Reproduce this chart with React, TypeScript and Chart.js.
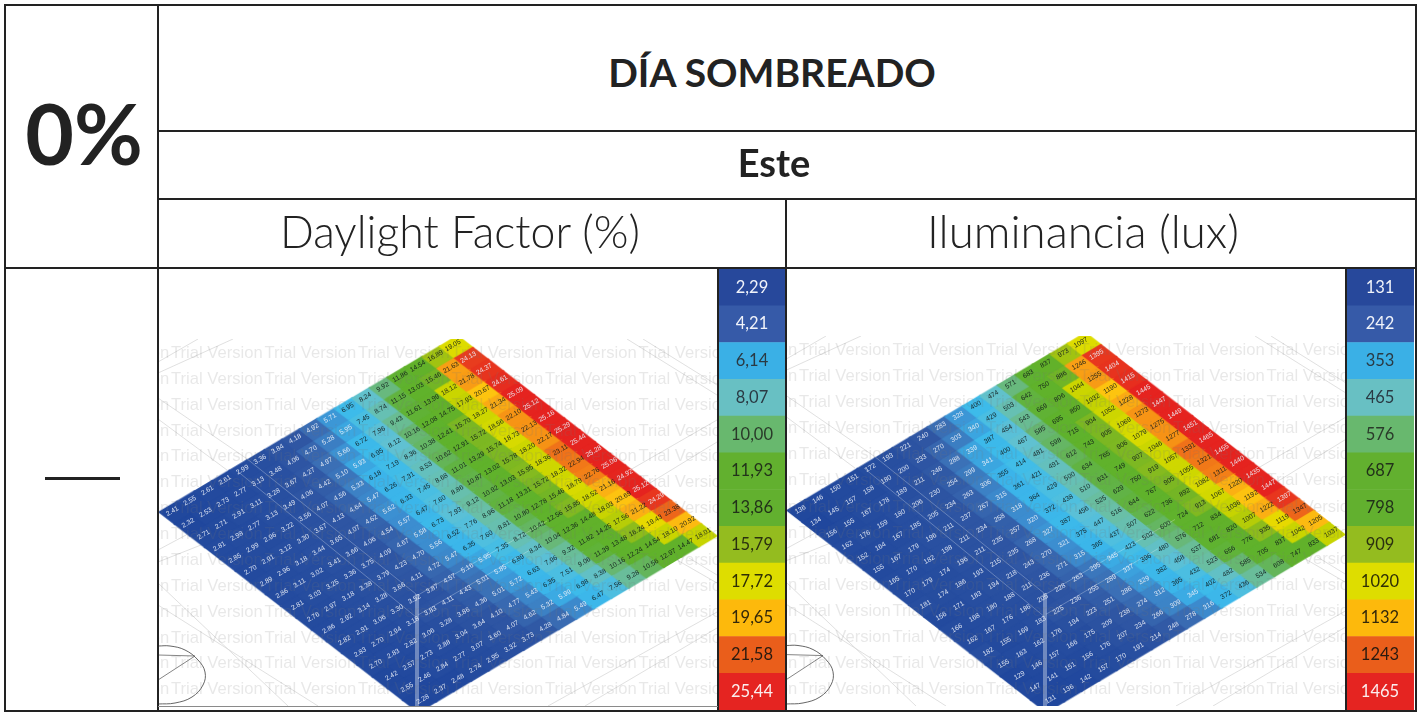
import React, { useEffect, useRef } from "react";
import { Chart, registerables } from "chart.js";

Chart.register(...registerables);

// One row per v (top-left edge to bottom-right edge), u runs up and to the right.
const daylightRows: number[][] = [
  [2.41, 2.55, 2.61, 2.61, 2.99, 3.36, 3.84, 4.18, 4.92, 5.71, 6.95, 8.24, 9.92, 11.86, 14.54, 16.89, 19.05],
  [2.32, 2.53, 2.73, 2.77, 3.13, 3.48, 4.06, 4.7, 5.28, 5.95, 7.45, 8.74, 11.15, 13.03, 15.46, 21.63, 24.13],
  [2.71, 2.71, 2.91, 3.11, 3.28, 3.67, 4.27, 4.97, 5.66, 6.72, 7.96, 9.43, 11.61, 13.99, 18.12, 21.78, 24.37],
  [2.81, 2.98, 2.77, 3.13, 3.49, 4.06, 4.42, 5.1, 5.93, 6.95, 8.12, 10.16, 12.08, 14.75, 17.93, 20.67, 24.61],
  [2.85, 2.99, 2.96, 3.22, 3.56, 4.07, 4.56, 5.33, 6.18, 7.19, 8.36, 10.38, 12.41, 15.7, 18.27, 21.34, 25.09],
  [2.7, 2.91, 3.12, 3.3, 3.67, 4.13, 4.64, 5.47, 6.26, 7.31, 8.53, 10.62, 12.91, 15.72, 18.56, 22.1, 25.12],
  [2.89, 2.96, 3.18, 3.44, 3.65, 4.07, 4.62, 5.62, 6.33, 7.45, 8.68, 11.01, 13.29, 15.74, 18.73, 22.13, 25.16],
  [2.86, 3.11, 3.02, 3.41, 3.66, 4.06, 4.54, 5.57, 6.47, 7.6, 8.86, 10.87, 13.02, 15.78, 18.2, 22.17, 25.29],
  [2.81, 3.03, 3.25, 3.36, 3.75, 4.09, 4.67, 5.58, 6.73, 7.93, 9.12, 10.92, 13.03, 15.95, 18.36, 23.11, 25.44],
  [2.76, 2.97, 3.18, 3.38, 3.79, 4.23, 4.7, 5.56, 6.52, 7.76, 8.96, 11.18, 13.31, 15.72, 18.32, 22.94, 25.28],
  [2.86, 2.92, 3.14, 3.28, 3.66, 4.11, 4.72, 5.47, 6.35, 7.6, 8.81, 10.8, 12.78, 15.46, 18.79, 22.76, 25.06],
  [2.82, 2.91, 3.06, 3.3, 3.52, 3.87, 4.57, 5.16, 5.95, 7.35, 8.72, 10.42, 12.56, 15.85, 18.52, 21.16, 24.92],
  [2.83, 2.7, 2.94, 3.18, 3.83, 4.11, 4.43, 5.01, 5.85, 6.89, 8.34, 10.04, 12.36, 14.48, 18.03, 20.69, 25.12],
  [2.7, 2.83, 2.82, 3.06, 3.28, 3.86, 4.36, 5.01, 5.72, 6.63, 7.96, 9.32, 11.82, 14.25, 17.56, 21.22, 24.29],
  [2.42, 2.57, 2.73, 2.88, 3.04, 3.64, 4.1, 4.77, 5.43, 6.35, 7.51, 9.06, 11.39, 13.48, 16.24, 19.43, 23.38],
  [2.55, 2.46, 2.84, 2.77, 3.07, 3.6, 4.07, 4.62, 5.32, 5.99, 6.98, 8.38, 10.16, 12.24, 14.54, 18.1, 20.92],
  [2.28, 2.37, 2.48, 2.74, 2.95, 3.32, 3.73, 4.28, 4.84, 5.49, 6.47, 7.56, 9.28, 10.56, 12.97, 14.47, 18.01],
];

const luxRows: number[][] = [
  [136, 146, 150, 151, 172, 193, 221, 240, 283, 328, 400, 474, 571, 683, 837, 973, 1097],
  [134, 145, 157, 158, 180, 200, 233, 270, 303, 340, 429, 503, 642, 750, 886, 1246, 1395],
  [156, 155, 167, 178, 189, 211, 246, 288, 339, 387, 454, 543, 669, 806, 1044, 1255, 1404],
  [162, 176, 159, 180, 206, 230, 254, 299, 341, 400, 467, 585, 695, 850, 1032, 1190, 1415],
  [152, 164, 167, 185, 205, 234, 263, 306, 355, 414, 481, 598, 715, 904, 1052, 1228, 1445],
  [155, 167, 179, 196, 211, 237, 267, 315, 361, 421, 491, 612, 743, 905, 1069, 1273, 1447],
  [165, 170, 182, 198, 211, 234, 258, 318, 364, 429, 500, 634, 765, 906, 1079, 1275, 1449],
  [170, 179, 174, 196, 211, 235, 257, 320, 372, 438, 510, 631, 749, 907, 1046, 1277, 1451],
  [181, 174, 186, 193, 215, 235, 268, 327, 387, 456, 525, 629, 750, 919, 1057, 1331, 1465],
  [156, 171, 183, 194, 218, 243, 270, 321, 375, 447, 516, 644, 767, 905, 1055, 1321, 1455],
  [166, 168, 180, 188, 211, 236, 271, 315, 365, 437, 507, 622, 736, 892, 1082, 1311, 1440],
  [162, 167, 176, 186, 205, 228, 263, 295, 345, 423, 502, 600, 724, 913, 1067, 1220, 1435],
  [182, 155, 169, 183, 225, 236, 255, 289, 337, 396, 480, 576, 712, 834, 1036, 1192, 1447],
  [155, 163, 162, 176, 194, 223, 251, 286, 329, 382, 458, 537, 681, 820, 1007, 1222, 1397],
  [129, 146, 157, 166, 175, 209, 238, 274, 312, 365, 432, 523, 656, 776, 935, 1119, 1347],
  [147, 141, 151, 156, 176, 207, 234, 266, 309, 345, 402, 482, 585, 705, 837, 1042, 1205],
  [131, 136, 142, 157, 170, 191, 214, 248, 278, 316, 372, 436, 534, 608, 747, 833, 1037],
];

const daylightLegend = ["2,29", "4,21", "6,14", "8,07", "10,00", "11,93", "13,86", "15,79", "17,72", "19,65", "21,58", "25,44"];
const luxLegend = ["131", "242", "353", "465", "576", "687", "798", "909", "1020", "1132", "1243", "1465"];
const legendColors = ["#27489b", "#365aa8", "#3ab0e6", "#68c0c3", "#68b86e", "#62b02f", "#62b02f", "#94bc1f", "#dedd00", "#fdb90c", "#ea5e1b", "#e52421"];
const legendTextColors = ["#f0f3fa", "#f0f3fa", "#2a3a44", "#2a3a44", "#2a3a2a", "#22321a", "#22321a", "#2a3010", "#2f2f05", "#33280a", "#2a1a10", "#fbeeee"];

// Colour ramp of the cells, in daylight-factor values.
const rampValues = [2.29, 4.2, 5.0, 5.6, 6.14, 7.1, 8.07, 9.0, 10, 11, 12, 15, 16, 17, 18.1, 19, 20, 20.7, 21.6, 22.5, 23.3, 24.2, 25];
const rampColors = ["#20479d", "#2f56a3", "#3b70b6", "#3c8fd1", "#3bb4ea", "#3dbcea", "#5fc1d4", "#69bfa6", "#68b87a", "#61b342", "#5fb22c", "#62b12a", "#86ba1f", "#a4c40f", "#cad500", "#dcdc00", "#f6d400", "#fdc310", "#f9a015", "#f58a15", "#ee6a1a", "#e8381e", "#e5231f"];

// Background drawing behind the grid, in panel pixels.
const groundLines = [
  [[-1, 23], [39, 0]],
  [[-1, 34], [74, 0]],
  [[468, 0], [558, 56]],
  [[484, 0], [558, 46]],
  [[471, 131], [558, 81]],
  [[491, 144], [558, 103]],
  [[-1, 59], [100, 128]],
  [[-1, 80], [68, 131]],
  [[-1, 211], [42, 188]],
  [[-1, 223], [42, 206]],
  [[-1, 244], [129, 367]],
  [[-1, 266], [159, 367]],
  [[389, 367], [558, 273]],
  [[426, 367], [558, 289]],
  [[518, 221], [558, 244]],
  [[530, 219], [558, 236]],
];
const compassOutline = [[-1, 307], [11, 307], [26, 311], [39, 321], [46, 333], [44, 346], [33, 358], [16, 364], [-1, 365]];
const compassSpokes = [[[-1, 316], [36, 317]], [[36, 317], [-1, 341]]];
const roomLines = [
  [[77, 131], [257, 278]],
  [[87, 119], [257, 255]],
  [[257, 255], [257, 367]],
  [[259, 255], [259, 367]],
  [[259, 256], [388, 182]],
  [[259, 276], [371, 211]],
];

const PANEL_W = 559;
const PANEL_H = 367;
const LEFT_X = 0.5;
const LEFT_Y = 173;
const U = { x: 17.53, y: -10.35 };
const V = { x: 15.23, y: 11.76 };

const hexRgb = (h: string) => [1, 3, 5].map((i) => parseInt(h.slice(i, i + 2), 16));
function rampColor(df: number) {
  if (df <= rampValues[0]) return rampColors[0];
  for (let i = 1; i < rampValues.length; i++) {
    if (df <= rampValues[i]) {
      const t = (df - rampValues[i - 1]) / (rampValues[i] - rampValues[i - 1]);
      const a = hexRgb(rampColors[i - 1]);
      const b = hexRgb(rampColors[i]);
      return `rgb(${a.map((c, k) => Math.round(c + (b[k] - c) * t)).join(",")})`;
    }
  }
  return rampColors[rampColors.length - 1];
}

const stampCache = new Map<string, HTMLCanvasElement>();
function cellStamp(color: string) {
  const hit = stampCache.get(color);
  if (hit) return hit;
  const c = document.createElement("canvas");
  c.width = 40;
  c.height = 30;
  const ctx = c.getContext("2d")!;
  ctx.translate(20, 15);
  const g = 0.55;
  const a = 0.5 + g / 17;
  ctx.fillStyle = color;
  ctx.beginPath();
  ctx.moveTo(-a * U.x - a * V.x - g, -a * U.y - a * V.y);
  ctx.lineTo(a * U.x - a * V.x, a * U.y - a * V.y - g);
  ctx.lineTo(a * U.x + a * V.x + g, a * U.y + a * V.y);
  ctx.lineTo(-a * U.x + a * V.x, -a * U.y + a * V.y + g);
  ctx.closePath();
  ctx.fill();
  stampCache.set(color, c);
  return c;
}

const segmentDataset = (pts: number[][], color: string, width: number, order: number, tension = 0) => ({
  data: pts.map(([x, y]) => ({ x, y })),
  showLine: true,
  borderColor: color,
  borderWidth: width,
  pointRadius: 0,
  tension,
  order,
  fill: false,
});

function GridPanel({ rows, toDf, decimals, left, top, height }: { rows: number[][]; toDf: (v: number) => number; decimals: number; left: number; top: number; height: number }) {
  const ref = useRef<HTMLCanvasElement>(null);
  useEffect(() => {
    const cells: { x: number; y: number; u: number; v: number; value: number }[] = [];
    rows.forEach((row, v) =>
      row.forEach((value, u) =>
        cells.push({
          x: LEFT_X + (u + 0.5) * U.x + (v + 0.5) * V.x,
          y: LEFT_Y + (u + 0.5) * U.y + (v + 0.5) * V.y,
          u,
          v,
          value,
        })
      )
    );
    const overlay = {
      id: "overlay",
      afterDatasetsDraw(chart: any) {
        const { ctx, scales } = chart;
        ctx.save();
        ctx.font = "16.6px 'Liberation Sans'";
        ctx.textBaseline = "middle";
        ctx.textAlign = "left";
        ctx.fillStyle = "rgba(120,120,120,0.17)";
        for (let r = 0; r < 14; r++) {
          for (let k = -1; k < 7; k++) {
            ctx.fillText("Trial Version", scales.x.getPixelForValue(12 + 93.5 * k), scales.y.getPixelForValue(14.3 + 25.88 * r));
          }
        }
        const meta = chart.getDatasetMeta(0);
        ctx.font = "6.8px 'Liberation Sans'";
        ctx.textAlign = "center";
        meta.data.forEach((pt: any, i: number) => {
          const c = cells[i];
          const df = toDf(c.value);
          ctx.save();
          ctx.translate(pt.x - 3.5 + 0.42 * c.v, pt.y - 1.5);
          ctx.rotate(-Math.PI / 6);
          ctx.fillStyle = df < 6.1 || df > 24 ? "rgba(235,240,248,0.92)" : "rgba(15,25,25,0.92)";
          ctx.fillText(c.value.toFixed(decimals), 0, 0);
          ctx.restore();
        });
        ctx.restore();
      },
    };
    const chart = new Chart(ref.current!, {
      type: "scatter",
      data: {
        datasets: [
          {
            data: cells,
            order: 2,
            pointRadius: 22,
            pointHoverRadius: 22,
            pointStyle: (c: any) => cellStamp(rampColor(toDf(cells[c.dataIndex].value))),
          } as any,
          ...groundLines.map((l) => segmentDataset(l, "#d2d2d2", 0.7, 3)),
          segmentDataset(compassOutline, "#555555", 0.9, 3, 0.4),
          ...compassSpokes.map((l) => segmentDataset(l, "#666666", 0.8, 3)),
          ...roomLines.map((l) => segmentDataset(l, "rgba(255,255,255,0.3)", 0.9, 1)),
        ],
      },
      options: {
        animation: false,
        responsive: false,
        events: [],
        layout: { padding: 0, autoPadding: false },
        plugins: { legend: { display: false }, tooltip: { enabled: false } },
        scales: {
          x: { type: "linear", display: false, min: 0, max: PANEL_W },
          y: { type: "linear", display: false, min: 0, max: PANEL_H, reverse: true },
        },
      },
      plugins: [overlay],
    } as any);
    return () => chart.destroy();
  }, []);
  return <canvas ref={ref} width={PANEL_W} height={height} style={{ position: "absolute", left, top, width: PANEL_W, height, display: "block" }} />;
}

function LegendBar({ labels, left }: { labels: string[]; left: number }) {
  const ref = useRef<HTMLCanvasElement>(null);
  useEffect(() => {
    const text = {
      id: "barText",
      afterDatasetsDraw(chart: any) {
        const { ctx } = chart;
        ctx.save();
        ctx.font = "16.5px Lato";
        ctx.textAlign = "center";
        ctx.textBaseline = "middle";
        chart.getDatasetMeta(0).data.forEach((bar: any, i: number) => {
          ctx.fillStyle = legendTextColors[i];
          ctx.fillText(labels[i], chart.width / 2, bar.y);
        });
        ctx.restore();
      },
    };
    const chart = new Chart(ref.current!, {
      type: "bar",
      data: {
        labels,
        datasets: [{ data: labels.map(() => 1), backgroundColor: legendColors, barPercentage: 1, categoryPercentage: 1, borderWidth: 0 }],
      },
      options: {
        indexAxis: "y",
        animation: false,
        responsive: false,
        events: [],
        layout: { padding: 0, autoPadding: false },
        plugins: { legend: { display: false }, tooltip: { enabled: false } },
        scales: {
          x: { display: false, min: 0, max: 1 },
          y: { display: false },
        },
      },
      plugins: [text],
    } as any);
    return () => chart.destroy();
  }, []);
  return <canvas ref={ref} width={68} height={441} style={{ position: "absolute", left, top: 269, width: 68, height: 441, display: "block" }} />;
}

const rule = (left: number, top: number, width: number, height: number, color = "#222222") => (
  <div style={{ position: "absolute", left, top, width, height, background: color }} />
);

const heading = (label: string, cx: number, cy: number, style: React.CSSProperties) => (
  <div style={{ position: "absolute", left: cx - 400, top: cy - 60, width: 800, height: 120, lineHeight: "120px", textAlign: "center", color: "#222222", whiteSpace: "nowrap", ...style }}>{label}</div>
);

export default function App() {
  const luxToDf = (v: number) => 2.29 + ((v - 131) / (1465 - 131)) * (25.44 - 2.29);
  return (
    <div style={{ position: "absolute", left: 0, top: 0, width: 1421, height: 713, background: "#fff", overflow: "hidden" }}>
      <GridPanel rows={daylightRows} toDf={(v) => v} decimals={2} left={159} top={339} height={367} />
      <GridPanel rows={luxRows} toDf={luxToDf} decimals={0} left={787} top={336} height={370} />
      <LegendBar labels={daylightLegend} left={718} />
      <LegendBar labels={luxLegend} left={1346} />
      {rule(5, 4, 1412, 2)}
      {rule(5, 710, 1412, 2)}
      {rule(4, 4, 2, 708)}
      {rule(1415, 4, 2, 708)}
      {rule(157, 4, 2, 708)}
      {rule(785, 198, 2, 514)}
      {rule(158, 130, 1258, 2)}
      {rule(158, 198, 1258, 2)}
      {rule(5, 267, 1412, 2)}
      {rule(717, 268, 1.5, 443)}
      {rule(1345, 268, 1.5, 443)}
      {rule(158, 706, 560, 1, "#8a8a8a")}
      {rule(45, 477, 75, 3)}
      {heading("0%", 84, 133, { fontFamily: "Lato", fontWeight: 700, fontSize: 84 })}
      {heading("DÍA SOMBREADO", 772, 72, { fontFamily: "Lato", fontWeight: 700, fontSize: 39 })}
      {heading("Este", 774, 162, { fontFamily: "Lato", fontWeight: 700, fontSize: 38 })}
      {heading("Daylight Factor (%)", 460, 231, { fontFamily: "Lato", fontWeight: 300, fontSize: 44.6 })}
      {heading("Iluminancia (lux)", 1083, 231, { fontFamily: "Lato", fontWeight: 300, fontSize: 45.6 })}
    </div>
  );
}
